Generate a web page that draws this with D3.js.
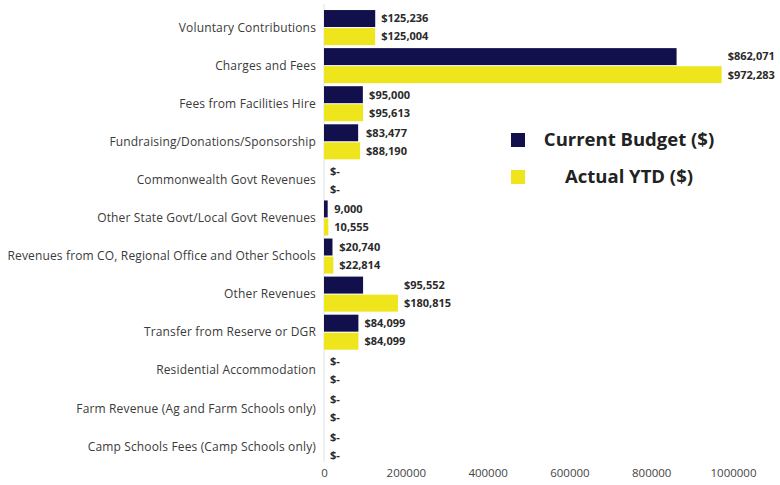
<!DOCTYPE html>
<html>
<head>
<meta charset="utf-8">
<script src="https://cdn.jsdelivr.net/npm/d3@7"></script>
<style>
  html, body { margin: 0; padding: 0; background: #ffffff; }
  svg { display: block; }
</style>
</head>
<body>
<svg id="chart" width="780" height="485"></svg>
<script>
// Revenue categories, top to bottom
const categories = [
  "Voluntary Contributions",
  "Charges and Fees",
  "Fees from Facilities Hire",
  "Fundraising/Donations/Sponsorship",
  "Commonwealth Govt Revenues",
  "Other State Govt/Local Govt Revenues",
  "Revenues from CO, Regional Office and Other Schools",
  "Other Revenues",
  "Transfer from Reserve or DGR",
  "Residential Accommodation",
  "Farm Revenue (Ag and Farm Schools only)",
  "Camp Schools Fees (Camp Schools only)"
];

const seriesNames = ["Current Budget ($)", "Actual YTD ($)"];

const currentBudget = [125236, 862071, 95000, 83477, 0, 9000, 20740, 95552, 84099, 0, 0, 0];
const actualYTD     = [125004, 972283, 95613, 88190, 0, 10555, 22814, 180815, 84099, 0, 0, 0];

// Value labels as printed next to the bars
const budgetLabels = ["$125,236", "$862,071", "$95,000", "$83,477", "$-", "9,000", "$20,740", "$95,552", "$84,099", "$-", "$-", "$-"];
const actualLabels = ["$125,004", "$972,283", "$95,613", "$88,190", "$-", "10,555", "$22,814", "$180,815", "$84,099", "$-", "$-", "$-"];

const xTicks = [0, 200000, 400000, 600000, 800000, 1000000];

const colors = ["#12104c", "#efe51c"];

const svg = d3.select("#chart");

const x = d3.scaleLinear().domain([0, 1000000]).range([324, 733]);

const y = d3.scaleBand()
  .domain(categories)
  .range([7, 467])
  .paddingInner(0.08)
  .paddingOuter(0.08);

const sub = d3.scaleBand()
  .domain(seriesNames)
  .range([0, y.bandwidth()])
  .paddingInner(0.06);

const rows = categories.map((c, i) => ({
  cat: c,
  top: Math.max(currentBudget[i], actualYTD[i]),
  vals: [
    { s: seriesNames[0], v: currentBudget[i], label: budgetLabels[i] },
    { s: seriesNames[1], v: actualYTD[i], label: actualLabels[i] }
  ]
}));

// Baseline at zero
svg.append("line")
  .attr("x1", x(0)).attr("x2", x(0))
  .attr("y1", 4).attr("y2", 462)
  .attr("stroke", "#e2e2e2")
  .attr("stroke-width", 1);

const groups = svg.append("g").selectAll("g")
  .data(rows)
  .join("g")
  .attr("transform", d => `translate(0,${y(d.cat)})`);

groups.selectAll("rect")
  .data(d => d.vals)
  .join("rect")
  .attr("x", x(0))
  .attr("y", d => sub(d.s))
  .attr("width", d => x(d.v) - x(0))
  .attr("height", sub.bandwidth())
  .attr("fill", (d, i) => colors[i]);

// Both labels of a pair line up just past the longer bar
groups.each(function(row) {
  d3.select(this).selectAll("text.val")
    .data(row.vals)
    .join("text")
    .attr("class", "val")
    .attr("x", x(row.top) + 6)
    .attr("y", d => sub(d.s) + sub.bandwidth() / 2)
    .attr("dy", "0.35em")
    .attr("font-family", "'Open Sans', sans-serif")
    .attr("font-size", 11)
    .attr("font-weight", 700)
    .attr("fill", "#2a2a2a")
    .text(d => d.label);
});

// Category labels
svg.append("g").selectAll("text")
  .data(categories)
  .join("text")
  .attr("x", 316)
  .attr("y", d => y(d) + y.bandwidth() / 2)
  .attr("dy", "0.35em")
  .attr("text-anchor", "end")
  .attr("font-family", "'Open Sans', sans-serif")
  .attr("font-size", 12)
  .attr("letter-spacing", 0.15)
  .attr("fill", "#3a3a3a")
  .text(d => d);

// Bottom axis
const xAxis = d3.axisBottom(x)
  .tickValues(xTicks)
  .tickFormat(d3.format("d"))
  .tickSize(0)
  .tickPadding(0);

const ax = svg.append("g")
  .attr("transform", "translate(0,469)")
  .call(xAxis);
ax.select(".domain").remove();
ax.selectAll("text")
  .attr("font-family", "'Open Sans', sans-serif")
  .attr("font-size", 11.5)
  .attr("fill", "#444");

// Legend
const legend = svg.append("g");
const legendRows = [
  { name: seriesNames[0], color: colors[0], y: 140 },
  { name: seriesNames[1], color: colors[1], y: 177 }
];
legend.selectAll("rect")
  .data(legendRows)
  .join("rect")
  .attr("x", 511)
  .attr("y", d => d.y - 7)
  .attr("width", 14)
  .attr("height", 14)
  .attr("fill", d => d.color);
legend.selectAll("text")
  .data(legendRows)
  .join("text")
  .attr("x", 629)
  .attr("y", d => d.y)
  .attr("dy", "0.35em")
  .attr("text-anchor", "middle")
  .attr("font-family", "'Open Sans', sans-serif")
  .attr("font-size", 18.5)
  .attr("font-weight", 700)
  .attr("fill", "#222")
  .text(d => d.name);
</script>
</body>
</html>
